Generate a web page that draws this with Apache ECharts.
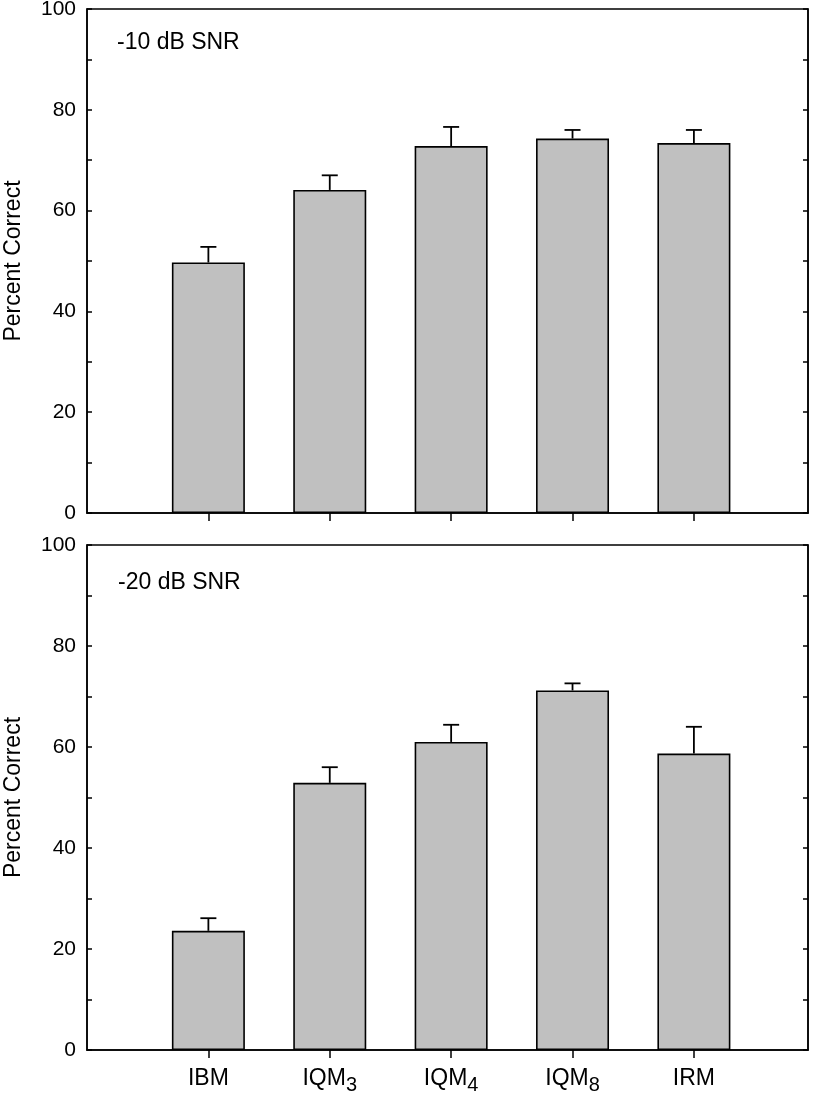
<!DOCTYPE html>
<html>
<head>
<meta charset="utf-8">
<script src="https://cdn.jsdelivr.net/npm/echarts@6/dist/echarts.min.js"></script>
<style>
html,body{margin:0;padding:0;background:#fff;}
#chart{width:813px;height:1094px;}
</style>
</head>
<body>
<div id="chart"></div>
<script>
// ---- data ----
var catNames = ['IBM', 'IQM', 'IQM', 'IQM', 'IRM'];
var catSubs = ['', '3', '4', '8', ''];
var catPos = [1, 2, 3, 4, 5];
var yTicks = [0, 20, 40, 60, 80, 100];
var snr10Mean = [49.7, 64.1, 72.8, 74.3, 73.4];
var snr10Err = [3.1, 2.9, 3.8, 1.7, 2.6];
var snr20Mean = [23.6, 52.9, 61.0, 71.2, 58.7];
var snr20Err = [2.5, 3.1, 3.4, 1.4, 5.3];
var panelTitles = ['-10 dB SNR', '-20 dB SNR'];

var FONT = 'Liberation Sans, Arial, sans-serif';
var chart = echarts.init(document.getElementById('chart'), null, {renderer: 'canvas'});

function xAxisFor(gridIndex, showLabels) {
  return {
    type: 'value', gridIndex: gridIndex, min: 0, max: 5.94,
    axisLine: {show: true, lineStyle: {color: '#000', width: 1.5}},
    axisTick: {show: true, inside: false, length: 8, customValues: catPos, lineStyle: {color: '#000', width: 1.5}},
    axisLabel: {
      show: showLabels, margin: 17, customValues: catPos,
      formatter: function (v) {
        var i = Math.round(v) - 1;
        if (i < 0 || i >= catNames.length) return '';
        return catSubs[i] ? '{n|' + catNames[i] + '}{s|' + catSubs[i] + '}' : '{n|' + catNames[i] + '}';
      },
      rich: {
        n: {fontSize: 23, fontFamily: FONT, color: '#000', lineHeight: 26, verticalAlign: 'top'},
        s: {fontSize: 20, fontFamily: FONT, color: '#000', lineHeight: 26, padding: [8, 0, 0, 0], verticalAlign: 'top'}
      }
    },
    splitLine: {show: false}
  };
}
function yAxisFor(gridIndex, pos) {
  var left = pos === 'left';
  return {
    type: 'value', gridIndex: gridIndex, position: pos, min: yTicks[0], max: yTicks[yTicks.length - 1], interval: 20,
    name: left ? 'Percent Correct' : '', nameLocation: 'middle', nameGap: 62,
    nameTextStyle: {fontSize: 23, fontFamily: FONT, color: '#000'},
    axisLine: {show: true, lineStyle: {color: '#000', width: 1.5}},
    axisTick: {show: true, inside: true, length: 5, lineStyle: {color: '#000', width: 1.5}},
    minorTick: {show: true, splitNumber: 2, length: 5, lineStyle: {color: '#000', width: 1.5}},
    axisLabel: {show: left, margin: 11, fontSize: 21, fontFamily: FONT, color: '#000'},
    splitLine: {show: false}, minorSplitLine: {show: false}
  };
}
function pairs(vals) { return vals.map(function (v, i) { return [catPos[i], v]; }); }
function triples(vals, errs) { return vals.map(function (v, i) { return [catPos[i], v, errs[i]]; }); }
function errRender(params, api) {
  var x = api.value(0), m = api.value(1), e = api.value(2);
  var p0 = api.coord([x, m]), p1 = api.coord([x, m + e]);
  var st = {stroke: '#000', lineWidth: 1.8};
  return {type: 'group', children: [
    {type: 'line', shape: {x1: p0[0], y1: p0[1], x2: p1[0], y2: p1[1]}, style: st},
    {type: 'line', shape: {x1: p1[0] - 8, y1: p1[1], x2: p1[0] + 8, y2: p1[1]}, style: st}
  ]};
}
function barSeries(xi, yi, vals) {
  return {type: 'bar', xAxisIndex: xi, yAxisIndex: yi, data: pairs(vals), barWidth: 73,
    itemStyle: {color: '#c0c0c0', borderColor: '#000', borderWidth: 1.6}, silent: true, animation: false};
}
function errSeries(xi, yi, vals, errs) {
  return {type: 'custom', xAxisIndex: xi, yAxisIndex: yi, data: triples(vals, errs), renderItem: errRender,
    z: 3, silent: true, animation: false};
}

chart.setOption({
  animation: false,
  backgroundColor: '#fff',
  grid: [
    {left: 87, right: 5, top: 9, height: 504, show: true, borderColor: '#000', borderWidth: 1.5,
      backgroundColor: 'transparent', containLabel: false, outerBoundsMode: 'none'},
    {left: 87, right: 5, top: 545, height: 505, show: true, borderColor: '#000', borderWidth: 1.5,
      backgroundColor: 'transparent', containLabel: false, outerBoundsMode: 'none'}
  ],
  xAxis: [xAxisFor(0, false), xAxisFor(1, true)],
  yAxis: [yAxisFor(0, 'left'), yAxisFor(0, 'right'), yAxisFor(1, 'left'), yAxisFor(1, 'right')],
  graphic: [
    {type: 'text', left: 117, top: 31, style: {text: panelTitles[0], font: '23px ' + FONT, fill: '#000'}},
    {type: 'text', left: 118, top: 571, style: {text: panelTitles[1], font: '23px ' + FONT, fill: '#000'}}
  ],
  series: [
    barSeries(0, 0, snr10Mean), errSeries(0, 0, snr10Mean, snr10Err),
    barSeries(1, 2, snr20Mean), errSeries(1, 2, snr20Mean, snr20Err)
  ]
});
</script>
</body>
</html>
